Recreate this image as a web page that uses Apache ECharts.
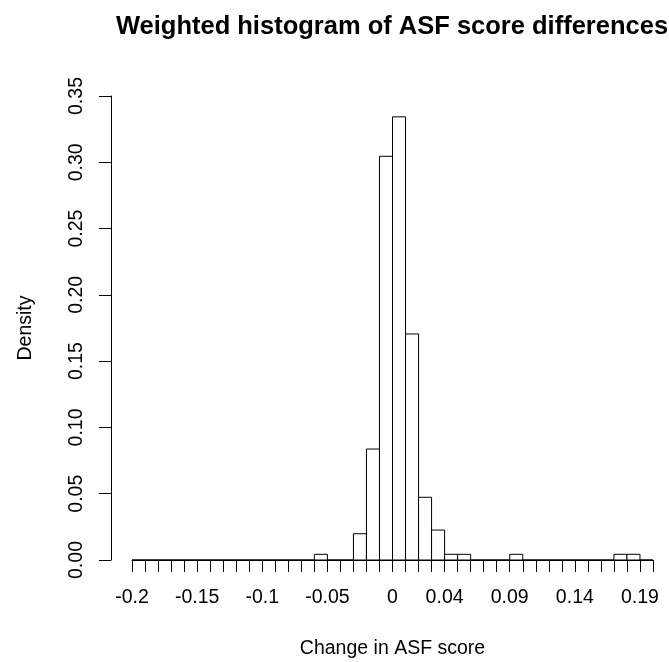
<!DOCTYPE html>
<html>
<head>
<meta charset="utf-8">
<script src="https://cdn.jsdelivr.net/npm/echarts@6/dist/echarts.min.js"></script>
<style>
  html, body { margin: 0; padding: 0; background: #fff; }
  #chart { width: 669px; height: 662px; }
</style>
</head>
<body>
<div id="chart"></div>
<script>
// bin left edges (width 0.01)
const binStarts = [
  -0.20, -0.19, -0.18, -0.17, -0.16, -0.15, -0.14, -0.13, -0.12, -0.11,
  -0.10, -0.09, -0.08, -0.07, -0.06, -0.05, -0.04, -0.03, -0.02, -0.01,
  0.00, 0.01, 0.02, 0.03, 0.04, 0.05, 0.06, 0.07, 0.08, 0.09,
  0.10, 0.11, 0.12, 0.13, 0.14, 0.15, 0.16, 0.17, 0.18, 0.19
]
const binWidth = 0.01
// weighted density per bin
const density = [
  0, 0, 0, 0, 0, 0, 0, 0, 0, 0,
  0, 0, 0, 0, 0.0043, 0, 0, 0.0198, 0.0837, 0.3045,
  0.3343, 0.1705, 0.0473, 0.0226, 0.0043, 0.0043, 0, 0, 0, 0.0043,
  0, 0, 0, 0, 0, 0, 0, 0.0043, 0.0043, 0
]
// x tick labels actually printed
const xLabelTicks = [-0.2, -0.15, -0.1, -0.05, 0, 0.04, 0.09, 0.14, 0.19]
const xLabels = ['-0.2', '-0.15', '-0.1', '-0.05', '0', '0.04', '0.09', '0.14', '0.19']
const yTicks = [0, 0.05, 0.1, 0.15, 0.2, 0.25, 0.3, 0.35]

const font = 'Liberation Sans, Arial, sans-serif'
const chart = echarts.init(document.getElementById('chart'))

const option = {
  animation: false,
  backgroundColor: '#fff',
  grid: { left: 132, top: 96, width: 521, height: 464, outerBoundsMode: 'none', containLabel: false },
  xAxis: {
    type: 'value',
    min: -0.2,
    max: 0.2,
    interval: 0.01,
    name: 'Change in ASF score',
    nameLocation: 'middle',
    nameGap: 79,
    nameTextStyle: { fontFamily: font, fontSize: 19.5, color: '#000' },
    axisLine: { show: true, onZero: false, lineStyle: { color: '#000', width: 1 } },
    axisTick: { show: true, length: 12, lineStyle: { color: '#000', width: 1 } },
    splitLine: { show: false },
    axisLabel: {
      margin: 28,
      fontFamily: font,
      fontSize: 19.5,
      color: '#000',
      formatter: v => {
        const i = xLabelTicks.findIndex(t => Math.round(t * 100) === Math.round(v * 100))
        return i >= 0 ? xLabels[i] : ''
      }
    }
  },
  yAxis: {
    type: 'value',
    min: yTicks[0],
    max: yTicks[yTicks.length - 1],
    interval: 0.05,
    offset: 21,
    name: 'Density',
    nameLocation: 'middle',
    nameGap: 75,
    nameTextStyle: { fontFamily: font, fontSize: 19.5, color: '#000' },
    axisLine: { show: true, onZero: false, lineStyle: { color: '#000', width: 1 } },
    axisTick: { show: true, length: 12, lineStyle: { color: '#000', width: 1 } },
    splitLine: { show: false },
    axisLabel: {
      rotate: 90,
      margin: 24,
      fontFamily: font,
      fontSize: 19.5,
      color: '#000',
      formatter: v => v.toFixed(2)
    }
  },
  graphic: [{
    type: 'text',
    x: 392,
    y: 27,
    style: {
      text: 'Weighted histogram of ASF score differences',
      font: 'bold 25.5px ' + font,
      fill: '#000',
      textAlign: 'center',
      textVerticalAlign: 'middle'
    }
  }],
  series: [{
    type: 'custom',
    data: binStarts.map((x, i) => [x, x + binWidth, density[i]]),
    encode: { x: [0, 1], y: 2 },
    renderItem: (params, api) => {
      const p0 = api.coord([api.value(0), api.value(2)])
      const p1 = api.coord([api.value(1), 0])
      return {
        type: 'rect',
        shape: { x: p0[0], y: p0[1], width: p1[0] - p0[0], height: p1[1] - p0[1] },
        style: { fill: '#fff', stroke: '#000', lineWidth: 1 }
      }
    }
  }]
}

chart.setOption(option)
</script>
</body>
</html>
